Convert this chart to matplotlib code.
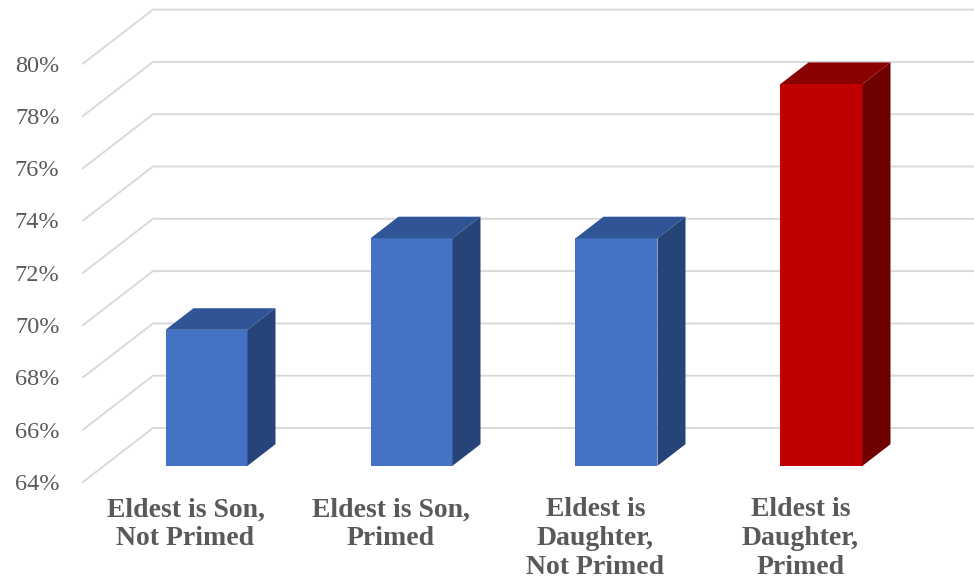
import numpy as np
import matplotlib
matplotlib.use("Agg")
import matplotlib.pyplot as plt
from matplotlib.patches import Polygon

# data
categories = ["Eldest is Son,\nNot Primed", "Eldest is Son,\nPrimed",
              "Eldest is\nDaughter,\nNot Primed", "Eldest is\nDaughter,\nPrimed"]
values = [69.2, 72.7, 72.7, 78.6]
yticks = [64, 66, 68, 70, 72, 74, 76, 78, 80]

# colours: (front, top, side)
BLUE = ("#4472C4", "#2F5597", "#264478")
RED = ("#C00000", "#8B0000", "#700000")
bar_cols = [BLUE, BLUE, BLUE, RED]

W, H = 974, 584
FLOOR = 64
# oblique depth: full depth shifts right and up (in data units)
DDX, DDY = 70 / 205, 54 / 26.15
D0, D1 = 0.3, 0.7          # bar front/back depth
BW = 0.4                   # bar width in category units

fig = plt.figure(figsize=(W / 100, H / 100), dpi=100)
left, bottom = 83 / W, (H - 482) / H
ax = fig.add_axes([left, bottom, 1 - left, 482 / H])
ax.set_xlim(0, (W - 83) / 205)
ax.set_ylim(FLOOR, FLOOR + 482 / 26.15)
for s in ax.spines.values():
    s.set_visible(False)

# gridlines: side wall diagonal + back wall horizontal
xr = ax.get_xlim()[1]
for v in yticks:
    ax.plot([0, DDX, xr + 1], [v, v + DDY, v + DDY], color="#d9d9d9",
            lw=1.4, clip_on=False, zorder=1)

# pseudo-3D bars
for i, (v, (cf, ct, cs)) in enumerate(zip(values, bar_cols)):
    xc = i + 0.5 + D0 * DDX
    ax.bar(xc, v - FLOOR, bottom=FLOOR + D0 * DDY, width=BW, color=cf,
           zorder=3, clip_on=False)
    x0, x1 = xc - BW / 2, xc + BW / 2
    yb, yt = FLOOR + D0 * DDY, v + D0 * DDY
    ox, oy = (D1 - D0) * DDX, (D1 - D0) * DDY
    ax.add_patch(Polygon([(x0, yt), (x1, yt), (x1 + ox, yt + oy), (x0 + ox, yt + oy)],
                         closed=True, color=ct, zorder=3, clip_on=False, lw=0))
    ax.add_patch(Polygon([(x1, yb), (x1 + ox, yb + oy), (x1 + ox, yt + oy), (x1, yt)],
                         closed=True, color=cs, zorder=3, clip_on=False, lw=0))

ax.set_yticks(yticks)
ax.set_yticklabels([f"{t}%" for t in yticks], fontfamily="Liberation Serif",
                   fontsize=17.5, color="#595959")
ax.tick_params(axis="y", length=0, pad=17)
ax.set_xticks(np.arange(len(categories)) + 0.5)
ax.set_xticklabels(categories, fontfamily="Liberation Serif", fontsize=20,
                   fontweight="bold", color="#595959", linespacing=1.2)
ax.tick_params(axis="x", length=0, pad=11)

fig.savefig("out.png", dpi=100)
